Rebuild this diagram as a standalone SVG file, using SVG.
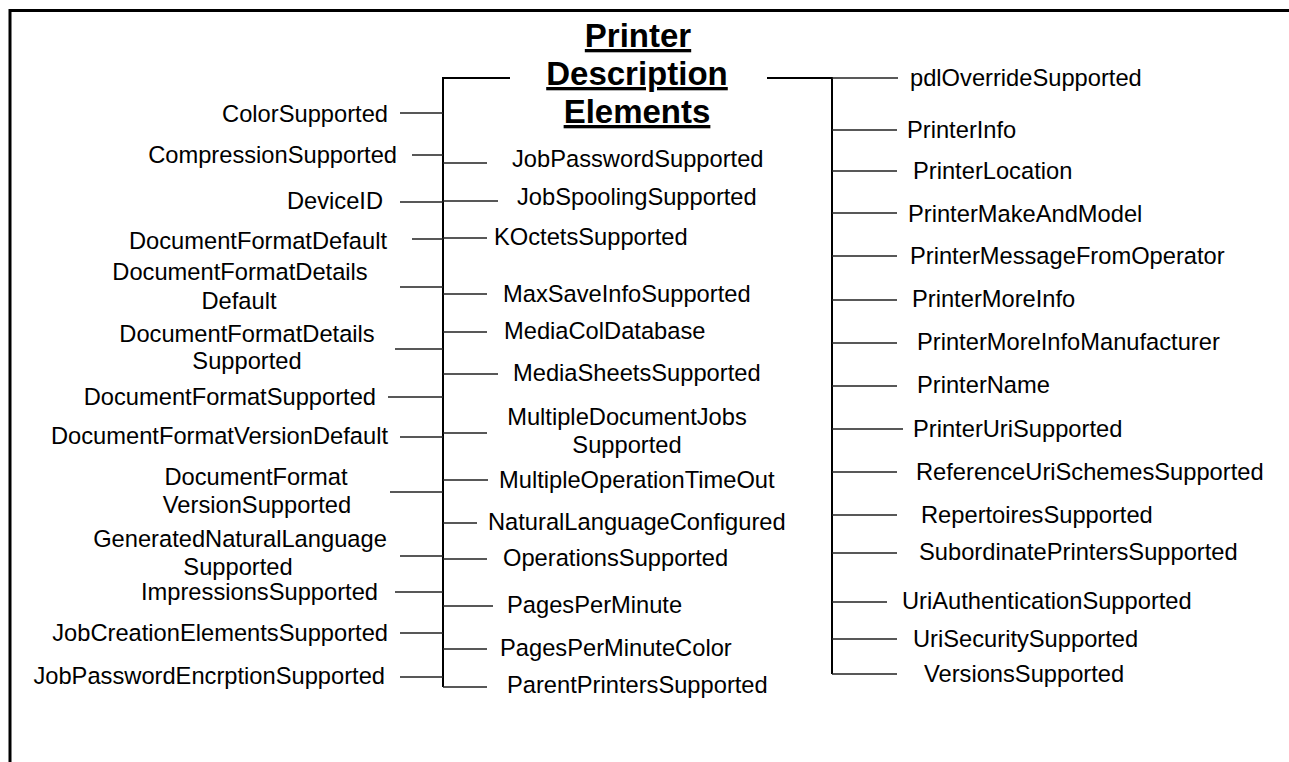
<svg xmlns="http://www.w3.org/2000/svg" width="1289" height="762" viewBox="0 0 1289 762">
<style>
text{font-family:"Liberation Sans",Arial,sans-serif;font-size:23.7px;fill:#000}
.l{text-anchor:end}
.c{text-anchor:middle}
.t{font-size:33px;font-weight:bold;text-anchor:middle;text-decoration:underline}
.b{stroke:#222;stroke-width:1.3;fill:none}
.k{stroke:#000;stroke-width:2;fill:none}
</style>
<rect width="1289" height="762" fill="#fff"/>
<path d="M10,762 V10.5 H1289" stroke="#000" stroke-width="3" fill="none"/>
<g id="connectors">
<path class="k" d="M510,78 H443 V687"/>
<path class="k" d="M767,78 H832 V674"/>
<path class="b" d="M832,78 H898"/>
<g id="left-branches">
<path class="b" d="M400,113H443M412,155H443M400,202H443M412,239H443M400,287H443M395,349H443M388,397H443M400,437H443M390,492H443M400,556H443M395,592H443M400,633H443M400,677H443"/>
</g>
<g id="middle-branches">
<path class="b" d="M443,163H487M443,201H498M443,238H487M443,294H487M443,332H487M443,374H498M443,433H487M443,480H488M443,523H477M443,559H487M443,606H493M443,649H487M443,687H487"/>
</g>
<g id="right-branches">
<path class="b" d="M832,130H897M832,171H897M832,213H897M832,256H897M832,300H897M832,343H897M832,386H897M832,429H903M832,472H897M832,515H897M832,553H897M832,602H887M832,639H897M832,674H897"/>
</g>
</g>
<g id="title">
<text class="t" x="638" y="47">Printer</text>
<text class="t" x="637" y="85">Description</text>
<text class="t" x="637" y="123">Elements</text>
</g>
<g id="left-nodes">
<g id="n-ColorSupported"><text class="l" x="388" y="122">ColorSupported</text></g>
<g id="n-CompressionSupported"><text class="l" x="397" y="163">CompressionSupported</text></g>
<g id="n-DeviceID"><text class="l" x="383" y="209">DeviceID</text></g>
<g id="n-DocumentFormatDefault"><text class="l" x="387" y="249">DocumentFormatDefault</text></g>
<g id="n-DocumentFormatDetailsDefault"><text class="c" x="240" y="280">DocumentFormatDetails</text><text class="c" x="239" y="309">Default</text></g>
<g id="n-DocumentFormatDetailsSupported"><text class="c" x="247" y="342">DocumentFormatDetails</text><text class="c" x="247" y="369">Supported</text></g>
<g id="n-DocumentFormatSupported"><text class="l" x="376" y="405">DocumentFormatSupported</text></g>
<g id="n-DocumentFormatVersionDefault"><text class="l" x="388" y="444">DocumentFormatVersionDefault</text></g>
<g id="n-DocumentFormatVersionSupported"><text class="c" x="256" y="485">DocumentFormat</text><text class="c" x="257" y="513">VersionSupported</text></g>
<g id="n-GeneratedNaturalLanguageSupported"><text class="c" x="240" y="547">GeneratedNaturalLanguage</text><text class="c" x="238" y="575">Supported</text></g>
<g id="n-ImpressionsSupported"><text class="l" x="378" y="600">ImpressionsSupported</text></g>
<g id="n-JobCreationElementsSupported"><text class="l" x="388" y="641">JobCreationElementsSupported</text></g>
<g id="n-JobPasswordEncrptionSupported"><text class="l" x="385" y="684">JobPasswordEncrptionSupported</text></g>
</g>
<g id="middle-nodes">
<g id="n-JobPasswordSupported"><text x="512" y="167">JobPasswordSupported</text></g>
<g id="n-JobSpoolingSupported"><text x="517" y="205">JobSpoolingSupported</text></g>
<g id="n-KOctetsSupported"><text x="494" y="245">KOctetsSupported</text></g>
<g id="n-MaxSaveInfoSupported"><text x="503" y="302">MaxSaveInfoSupported</text></g>
<g id="n-MediaColDatabase"><text x="504" y="339">MediaColDatabase</text></g>
<g id="n-MediaSheetsSupported"><text x="513" y="381">MediaSheetsSupported</text></g>
<g id="n-MultipleDocumentJobsSupported"><text class="c" x="627" y="425">MultipleDocumentJobs</text><text class="c" x="627" y="453">Supported</text></g>
<g id="n-MultipleOperationTimeOut"><text x="499" y="488">MultipleOperationTimeOut</text></g>
<g id="n-NaturalLanguageConfigured"><text x="488" y="530">NaturalLanguageConfigured</text></g>
<g id="n-OperationsSupported"><text x="503" y="566">OperationsSupported</text></g>
<g id="n-PagesPerMinute"><text x="507" y="613">PagesPerMinute</text></g>
<g id="n-PagesPerMinuteColor"><text x="500" y="656">PagesPerMinuteColor</text></g>
<g id="n-ParentPrintersSupported"><text x="507" y="693">ParentPrintersSupported</text></g>
</g>
<g id="right-nodes">
<g id="n-pdlOverrideSupported"><text x="910" y="86">pdlOverrideSupported</text></g>
<g id="n-PrinterInfo"><text x="907" y="138">PrinterInfo</text></g>
<g id="n-PrinterLocation"><text x="913" y="179">PrinterLocation</text></g>
<g id="n-PrinterMakeAndModel"><text x="908" y="222">PrinterMakeAndModel</text></g>
<g id="n-PrinterMessageFromOperator"><text x="910" y="264">PrinterMessageFromOperator</text></g>
<g id="n-PrinterMoreInfo"><text x="912" y="307">PrinterMoreInfo</text></g>
<g id="n-PrinterMoreInfoManufacturer"><text x="917" y="350">PrinterMoreInfoManufacturer</text></g>
<g id="n-PrinterName"><text x="917" y="393">PrinterName</text></g>
<g id="n-PrinterUriSupported"><text x="913" y="437">PrinterUriSupported</text></g>
<g id="n-ReferenceUriSchemesSupported"><text x="916" y="480">ReferenceUriSchemesSupported</text></g>
<g id="n-RepertoiresSupported"><text x="921" y="523">RepertoiresSupported</text></g>
<g id="n-SubordinatePrintersSupported"><text x="919" y="560">SubordinatePrintersSupported</text></g>
<g id="n-UriAuthenticationSupported"><text x="902" y="609">UriAuthenticationSupported</text></g>
<g id="n-UriSecuritySupported"><text x="913" y="647">UriSecuritySupported</text></g>
<g id="n-VersionsSupported"><text x="924" y="682">VersionsSupported</text></g>
</g>
</svg>
